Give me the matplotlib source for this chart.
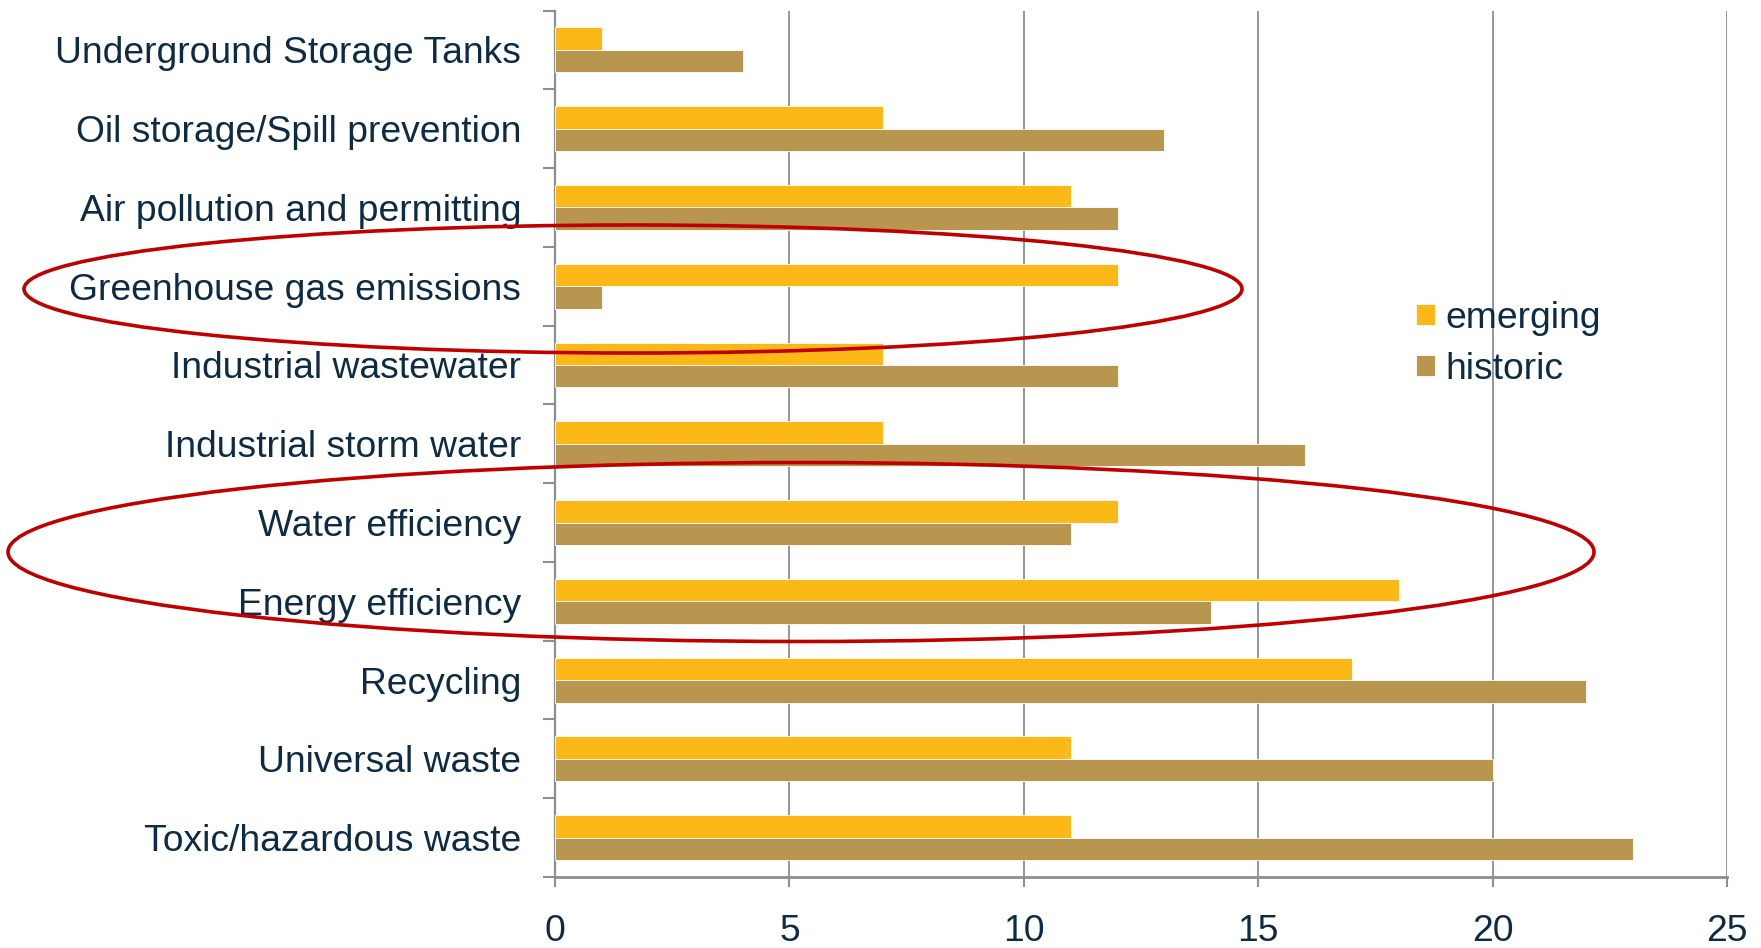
import numpy as np
import matplotlib
matplotlib.use('Agg')
import matplotlib.pyplot as plt
from matplotlib.patches import Ellipse

plt.rcParams['font.family'] = ['Liberation Sans', 'DejaVu Sans']

# ===== data =====
categories = [
    'Underground Storage Tanks',
    'Oil storage/Spill prevention',
    'Air pollution and permitting',
    'Greenhouse gas emissions',
    'Industrial wastewater',
    'Industrial storm water',
    'Water efficiency',
    'Energy efficiency',
    'Recycling',
    'Universal waste',
    'Toxic/hazardous waste',
]
emerging = [1, 7, 11, 12, 7, 7, 12, 18, 17, 11, 11]
historic = [4, 13, 12, 1, 12, 16, 11, 14, 22, 20, 23]
x_ticks = [0, 5, 10, 15, 20, 25]

# ===== style =====
c_emerging = '#FCB816'
c_historic = '#B89650'
c_text = '#0D2B45'
c_axis = '#8B8E95'
c_ring = '#C00000'
fs = 26.8

fig = plt.figure(figsize=(17.61, 9.48), dpi=100)
ax = fig.add_axes([0.3152, 0.0749, 0.9807 - 0.3152, 0.9889 - 0.0749])

y = np.arange(len(categories))
h = 0.285
ax.barh(y - h / 2, emerging, height=h, color=c_emerging, edgecolor='white',
        linewidth=0.6, label='emerging', zorder=3)
ax.barh(y + h / 2, historic, height=h, color=c_historic, edgecolor='white',
        linewidth=0.6, label='historic', zorder=3)

ax.set_xlim(0, 25)
ax.set_ylim(len(categories) - 0.5, -0.5)
ax.set_xticks(x_ticks)
ax.set_xticklabels([str(t) for t in x_ticks], fontsize=fs, color=c_text)
ax.set_yticks(y)
ax.set_yticklabels(categories, fontsize=fs, color=c_text)
ax.set_yticks(np.arange(-0.5, len(categories), 1.0), minor=True)

ax.tick_params(axis='y', which='major', length=0, pad=24.5)
ax.tick_params(axis='y', which='minor', length=8.6, width=1.5, color=c_axis)
ax.tick_params(axis='x', which='major', length=7, width=1.5, color=c_axis, pad=20)

ax.grid(axis='x', color=c_axis, linewidth=1.3, zorder=1)
ax.set_axisbelow(True)
for s in ['top', 'right']:
    ax.spines[s].set_visible(False)
ax.spines['left'].set_color(c_axis)
ax.spines['left'].set_linewidth(1.6)
ax.spines['bottom'].set_color(c_axis)
ax.spines['bottom'].set_linewidth(2.0)

leg = ax.legend(loc='upper left', bbox_to_anchor=(1416 / 1761, 1 - 301 / 948),
                bbox_transform=fig.transFigure, frameon=False, fontsize=fs,
                handlelength=0.5, handleheight=0.5, handletextpad=0.3,
                labelspacing=0.42, borderpad=0, borderaxespad=0)
for t in leg.get_texts():
    t.set_color(c_text)

# red rings drawn over the chart (pixel positions of the original)
W, H = 1761, 948
for cx, cy, ew, eh in [(633, 289, 1218, 128), (801, 552, 1586, 179)]:
    fig.add_artist(Ellipse((cx / W, 1 - cy / H), ew / W, eh / H,
                           transform=fig.transFigure, fill=False,
                           edgecolor=c_ring, linewidth=2.6, zorder=5))

fig.savefig('out.png', dpi=100, facecolor='white')
